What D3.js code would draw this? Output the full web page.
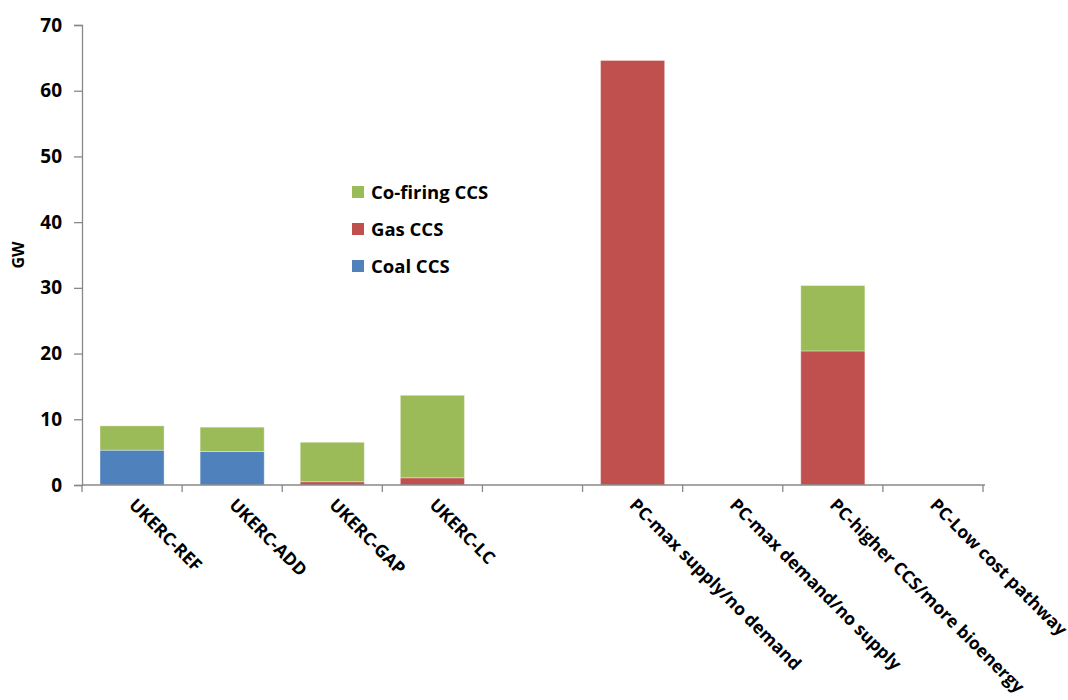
<!DOCTYPE html>
<html>
<head>
<meta charset="utf-8">
<script src="https://cdn.jsdelivr.net/npm/d3@7"></script>
<style>
  body { margin: 0; background: #fff; }
  text { font-family: "Open Sans", sans-serif; font-weight: bold; fill: #000; }
</style>
</head>
<body>
<svg id="chart" width="1068" height="700"></svg>
<script>
// Scenario categories (the blank entry is a spacer between the two groups)
const categories = [
  "UKERC-REF", "UKERC-ADD", "UKERC-GAP", "UKERC-LC", "",
  "PC-max supply/no demand", "PC-max demand/no supply",
  "PC-higher CCS/more bioenergy", "PC-Low cost pathway"
];
// Capacity in GW per technology, stacked bottom to top
const coalCCS     = [5.3, 5.1, 0,   0,    0, 0,    0, 0,    0];
const gasCCS      = [0,   0,   0.5, 1.1,  0, 64.6, 0, 20.4, 0];
const cofiringCCS = [3.7, 3.7, 6.0, 12.55,0, 0,    0, 9.95, 0];
const yTicks = [0, 10, 20, 30, 40, 50, 60, 70];

const seriesNames = ["Coal CCS", "Gas CCS", "Co-firing CCS"];
const seriesColors = { "Coal CCS": "#4F81BD", "Gas CCS": "#C0504D", "Co-firing CCS": "#9BBB59" };

const rows = categories.map((c, i) => ({
  key: i, cat: c,
  "Coal CCS": coalCCS[i], "Gas CCS": gasCCS[i], "Co-firing CCS": cofiringCCS[i]
}));

const svg = d3.select("#chart");
const margin = { left: 82, right: 85, top: 25, bottom: 215 };
const W = 1068, H = 700;
const x = d3.scaleBand().domain(rows.map(d => d.key))
  .range([margin.left, W - margin.right]).paddingInner(0.36).paddingOuter(0.18);
const y = d3.scaleLinear().domain([0, 70]).range([H - margin.bottom, margin.top]);

const stack = d3.stack().keys(seriesNames)(rows);

svg.append("g").selectAll("g").data(stack).join("g")
  .attr("fill", s => seriesColors[s.key])
  .selectAll("rect").data(s => s.filter(d => d[1] - d[0] > 0)).join("rect")
  .attr("x", d => x(d.data.key))
  .attr("width", x.bandwidth())
  .attr("y", d => y(d[1]))
  .attr("height", d => y(d[0]) - y(d[1]))
  .attr("stroke", "rgba(255,255,255,0.35)")
  .attr("stroke-width", 1);

// Y axis
const yAxis = svg.append("g").attr("transform", `translate(${margin.left},0)`)
  .call(d3.axisLeft(y).tickValues(yTicks).tickSize(8).tickPadding(12));
yAxis.select(".domain").attr("stroke", "#888").attr("stroke-width", 1.3);
yAxis.selectAll(".tick line").attr("stroke", "#888").attr("stroke-width", 1.3);
yAxis.selectAll(".tick text").style("font-size", "19px").attr("font-family", null).attr("fill", "#000");

// X axis with tick marks at the category boundaries
const x0 = margin.left, x1 = W - margin.right;
const xg = svg.append("g");
xg.append("line").attr("x1", x0).attr("x2", x1 + 2)
  .attr("y1", y(0)).attr("y2", y(0)).attr("stroke", "#888").attr("stroke-width", 1.3);
const bounds = d3.range(categories.length + 1).map(i => x0 + i * (x1 - x0) / categories.length);
xg.selectAll("line.tk").data(bounds).join("line").attr("class", "tk")
  .attr("x1", d => d).attr("x2", d => d)
  .attr("y1", y(0)).attr("y2", y(0) + 7)
  .attr("stroke", "#888").attr("stroke-width", 1.3);

xg.selectAll("text.cat").data(rows).join("text").attr("class", "cat")
  .attr("transform", d => `translate(${x(d.key) + x.bandwidth() / 2 - 4},${y(0) + 21}) rotate(45)`)
  .attr("text-anchor", "start")
  .style("font-size", "17.5px")
  .text(d => d.cat);

// Y axis title
svg.append("text")
  .attr("transform", `translate(24,${(y(35))}) rotate(-90)`)
  .attr("text-anchor", "middle")
  .style("font-size", "16px")
  .text("GW");

// Legend (top to bottom: Co-firing, Gas, Coal)
const legendItems = ["Co-firing CCS", "Gas CCS", "Coal CCS"];
const lg = svg.append("g").attr("transform", "translate(352,186)");
const li = lg.selectAll("g").data(legendItems).join("g")
  .attr("transform", (d, i) => `translate(0,${i * 37})`);
li.append("rect").attr("width", 12).attr("height", 12).attr("fill", d => seriesColors[d]);
li.append("text").attr("x", 19).attr("y", 13).style("font-size", "18.5px").text(d => d);
</script>
</body>
</html>
